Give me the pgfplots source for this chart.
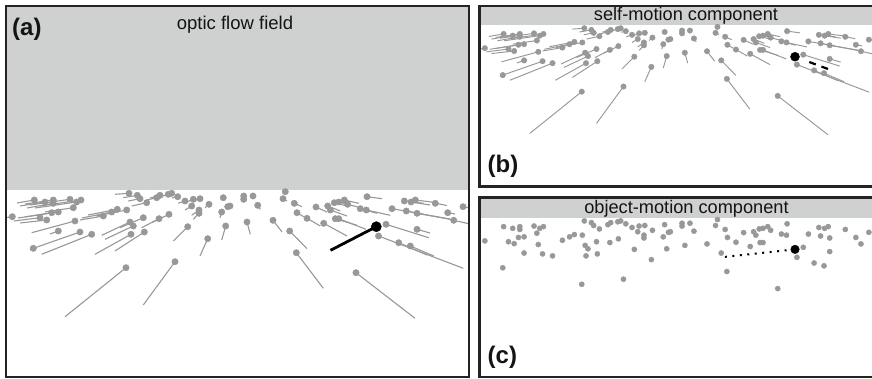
\documentclass[border=0pt]{standalone}
\usepackage{pgfplots}
\pgfplotsset{compat=1.18}
\usepackage{pgfplotstable}
\usepackage{fontspec}
\setmainfont{Liberation Sans}
\definecolor{sky}{RGB}{207,208,208}
\definecolor{dotgray}{RGB}{152,152,152}
\definecolor{bordercol}{RGB}{35,35,35}
\definecolor{txt}{RGB}{20,20,20}

\pgfplotstableread{
x y tx ty
34.3 200.0 17 203
45.0 202.0 20 206
53.3 200.0 25 204
53.3 203.3 27 208
70.0 199.3 30 205
76.7 202.0 35 208
81.0 200.0 40 206
73.3 207.7 45 212
12.3 216.7 -10 220
40.0 217.7 14 221
46.7 220.0 20 223
51.7 212.7 18 218
58.3 212.0 25 217
103.3 216.0 80 220
111.7 212.0 82 218
117.3 209.3 88 215
126.7 210.0 96 216
75.0 221.0 31.7 232.7
58.3 231.0 50 234
80.0 232.0 33.3 248.3
91.7 234.3 41.7 254.3
33.3 248.3 30 250
130.0 222.0 101.7 235.3
133.3 226.0 105 239.3
143.3 217.7 120 227.7
131.0 234.3 95 254.3
144.3 232.0 115 251
159.0 218.7 141.7 227.7
169.0 214.3 151.7 222.7
129.0 193.3 115 194.3
137.3 195.3 123.3 197.7
140.0 198.7 128.3 201
146.7 202.7 131.7 206
156.7 197.7 146.7 200
160.0 195.3 150 198
168.3 194.3 160 196.7
171.7 193.3 165 195
177.7 196.7 172 198
185.0 201.0 178.3 203.3
193.3 199.3 187 202
200.0 198.7 196 200
209.0 204.3 205 207.7
223.3 197.7 223 198
227.7 206.7 226 208
230.0 206.0 229.5 207
191.7 206.0 185 210
199.0 210.0 191.7 215.3
199.0 213.3 193.3 219.3
221.7 212.0 220 217.7
187.7 226.7 173.3 241
207.7 238.7 200 256
225.7 226.0 221.7 240
126.0 267.7 65 316.7
175.0 261.7 143.3 305
243.7 196.0 244 196.5
243.7 199.3 244 200
253.0 196.0 253.5 196.5
257.7 205.3 260.3 209.3
285.3 191.7 286 192
283.0 198.7 287 201
294.3 203.3 302 206.7
297.0 212.7 303.7 216.7
307.0 218.3 320.3 226
316.0 207.0 327 212
327.7 206.0 340.3 211
330.3 210.0 347 216
334.3 202.7 347 206
338.7 202.0 350 205
344.3 200.0 358.7 203.3
347.7 204.3 360.3 207.7
367.0 196.7 382 198.7
360.3 208.7 377 213.3
366.3 210.0 390.3 215.3
323.7 223.3 347 236
335.3 218.7 357 225.3
338.7 218.7 366 229.3
392.0 208.7 450 219
404.3 201.0 423.7 203.3
411.0 202.0 430 205
415.3 200.0 437 202.7
435.3 203.3 447 205.5
406.3 211.0 423.7 214.3
417.0 213.3 453.7 220
447.7 212.7 455 214
453.7 220.3 470 224
463.0 206.7 475 209
247.0 222.0 250.3 234.3
273.0 220.3 282 232
289.7 231.0 307 248.7
296.3 252.7 323.3 288.3
386.0 224.3 428.7 237.7
417.0 229.3 430 233
378.5 236.0 463.3 268.3
398.7 242.7 427 255
410.3 246.0 433.7 256
356.0 272.7 415 318.3
}\flowdata

\pgfplotsset{panel/.style={scale only axis, axis on top, y dir=reverse,
  xtick=\empty, ytick=\empty, anchor=south west,
  axis line style={line width=2.3bp, draw=bordercol}}}

\begin{document}
\begin{tikzpicture}
% ---------- (a) optic flow field ----------
\begin{axis}[panel, at={(6bp,2bp)}, width=463bp, height=371bp,
  xmin=6, xmax=469, ymin=6, ymax=377]
\fill[sky] (axis cs:0,0) rectangle (axis cs:480,189.5);
\addplot[dotgray, line width=1.1bp,
  quiver={u=\thisrow{tx}-\thisrow{x}, v=\thisrow{ty}-\thisrow{y}}]
  table[x=x, y=y]{\flowdata};
\addplot[dotgray, only marks, mark=*, mark size=3.2bp]
  table[x=x, y=y]{\flowdata};
\addplot[black, line width=2.8bp] coordinates {(376.3,226.7) (330.5,250.3)};
\addplot[black, only marks, mark=*, mark size=5.1bp]
  coordinates {(376.3,226.7)};
\end{axis}
% ---------- (b) self-motion component ----------
\begin{axis}[panel, at={(479.5bp,192.5bp)}, width=394.5bp, height=180.5bp,
  xmin=6, xmax=469, ymin=167.2, ymax=379]
\fill[sky] (axis cs:0,150) rectangle (axis cs:480,189.5);
\addplot[dotgray, line width=0.95bp,
  quiver={u=\thisrow{tx}-\thisrow{x}, v=\thisrow{ty}-\thisrow{y}}]
  table[x=x, y=y]{\flowdata};
\addplot[dotgray, only marks, mark=*, mark size=2.75bp]
  table[x=x, y=y]{\flowdata};
\addplot[black, line width=2.2bp, dash pattern=on 7bp off 6bp on 7bp off 60bp]
  coordinates {(415,241.1) (376.3,226.7)};
\addplot[black, only marks, mark=*, mark size=4.5bp]
  coordinates {(376.3,226.7)};
\end{axis}
% ---------- (c) object-motion component ----------
\begin{axis}[panel, at={(479.5bp,2bp)}, width=394.5bp, height=179.5bp,
  xmin=6, xmax=469, ymin=165.8, ymax=376.5]
\fill[sky] (axis cs:0,150) rectangle (axis cs:480,189.5);
\addplot[dotgray, only marks, mark=*, mark size=2.6bp]
  table[x=x, y=y]{\flowdata};
\addplot[black, line width=2bp, dash pattern=on 2bp off 5.5bp]
  coordinates {(294,235.5) (376.3,226.7)};
\addplot[black, only marks, mark=*, mark size=4.3bp]
  coordinates {(376.3,226.7)};
\end{axis}
% ---------- texts ----------
\node[anchor=base, inner sep=0pt, text=txt, font=\fontsize{18.5bp}{22bp}\selectfont]
  at (235bp,349.5bp) {optic flow field};
\node[anchor=base west, inner sep=0pt, text=txt, font=\fontsize{24bp}{28bp}\selectfont\bfseries]
  at (12bp,343.5bp) {(a)};
\node[anchor=base, inner sep=0pt, text=txt, font=\fontsize{18.2bp}{22bp}\selectfont]
  at (686bp,358.3bp) {self-motion component};
\node[anchor=base west, inner sep=0pt, text=txt, font=\fontsize{24bp}{28bp}\selectfont\bfseries]
  at (487.5bp,206bp) {(b)};
\node[anchor=base, inner sep=0pt, text=txt, font=\fontsize{18.2bp}{22bp}\selectfont]
  at (686.5bp,165bp) {object-motion component};
\node[anchor=base west, inner sep=0pt, text=txt, font=\fontsize{24bp}{28bp}\selectfont\bfseries]
  at (487.5bp,15.5bp) {(c)};
\pgfresetboundingbox
\useasboundingbox (0bp,0bp) rectangle (872bp,379bp);
\end{tikzpicture}
\end{document}
